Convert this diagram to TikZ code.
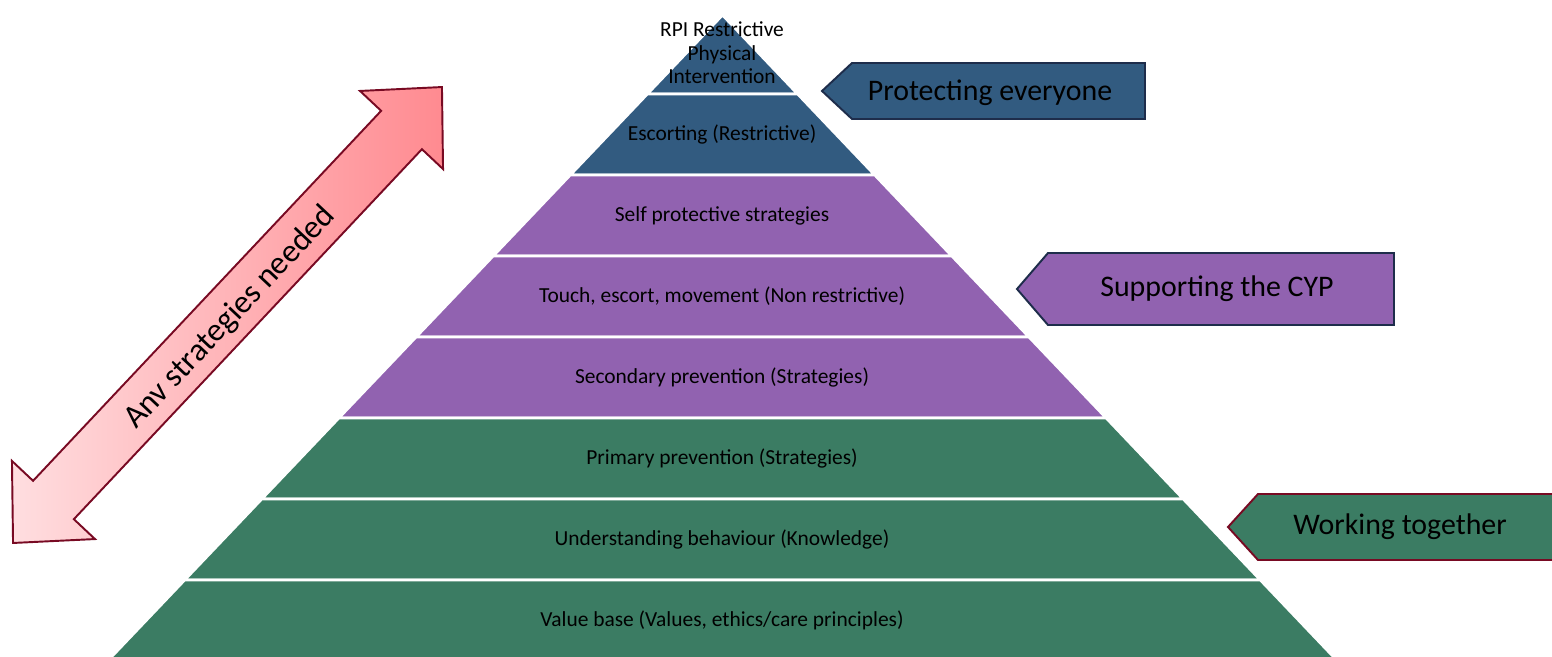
\documentclass[tikz,border=0pt]{standalone}
\usepackage{fontspec}
\setmainfont{Carlito}

\definecolor{topoazul}{RGB}{50,91,128}
\definecolor{meioroxo}{RGB}{145,98,176}
\definecolor{baseverde}{RGB}{59,124,99}
\definecolor{bordaazul}{RGB}{30,45,75}
\definecolor{bordavinho}{RGB}{120,10,35}
\definecolor{setaclara}{RGB}{255,222,224}
\definecolor{setaescura}{RGB}{255,138,144}

\begin{document}
\begin{tikzpicture}[x=0.02cm, y=-0.02cm,
    camada/.style={fill=#1, draw=white, line width=1.6pt},
    rotulo/.style={font=\fontsize{12.2}{13.3}\selectfont, align=center},
    aviso/.style={line width=1.1pt},
    avisotexto/.style={font=\fontsize{17}{20}\selectfont}]
    \useasboundingbox (0,0) rectangle (1552,656);

    % Camadas da piramide
    \path[camada=topoazul] (722.5,15) -- (797.7,94) -- (647.3,94) -- cycle;
    \path[camada=topoazul] (647.3,94) -- (797.7,94) -- (874.8,175) -- (570.2,175) -- cycle;
    \path[camada=meioroxo] (570.2,175) -- (874.8,175) -- (951.9,256) -- (493.1,256) -- cycle;
    \path[camada=meioroxo] (493.1,256) -- (951.9,256) -- (1029.0,337) -- (416.0,337) -- cycle;
    \path[camada=meioroxo] (416.0,337) -- (1029.0,337) -- (1106.2,418) -- (338.8,418) -- cycle;
    \path[camada=baseverde] (338.8,418) -- (1106.2,418) -- (1183.3,499) -- (261.7,499) -- cycle;
    \path[camada=baseverde] (261.7,499) -- (1183.3,499) -- (1260.4,580) -- (184.6,580) -- cycle;
    \path[camada=baseverde] (184.6,580) -- (1260.4,580) -- (1337.5,661) -- (107.5,661) -- cycle;

    % Textos das camadas
    \node[rotulo] (rpi) at (722,53) {RPI Restrictive\\Physical\\Intervention};
    \node[rotulo] (escolta) at (722,134.5) {Escorting (Restrictive)};
    \node[rotulo] (autoprot) at (722,215.5) {Self protective strategies};
    \node[rotulo] (toque) at (722,296.5) {Touch, escort, movement (Non restrictive)};
    \node[rotulo] (secund) at (722,377.5) {Secondary prevention (Strategies)};
    \node[rotulo] (primar) at (722,458.5) {Primary prevention (Strategies)};
    \node[rotulo] (compreen) at (722,539.5) {Understanding behaviour (Knowledge)};
    \node[rotulo] (valores) at (722,620) {Value base (Values, ethics/care principles)};

    % Setas largas da direita
    \draw[aviso, fill=topoazul, draw=bordaazul] (822,91) -- (852,63) -- (1145,63) -- (1145,119) -- (852,119) -- cycle;
    \node[avisotexto] (proteger) at (990,93) {Protecting everyone};
    \draw[aviso, fill=meioroxo, draw=bordaazul] (1017,289) -- (1048,253) -- (1394,253) -- (1394,325) -- (1048,325) -- cycle;
    \node[avisotexto] (apoiar) at (1217,289) {Supporting the CYP};
    \draw[aviso, fill=baseverde, draw=bordavinho] (1228,527) -- (1258,494) -- (1570,494) -- (1570,560) -- (1258,560) -- cycle;
    \node[avisotexto] (juntos) at (1400,527) {Working together};

    % Seta dupla inclinada
    \begin{scope}[shift={(227.5,315)}, rotate=46.75]
        \path[draw=bordavinho, line width=1.1pt, left color=setaclara, right color=setaescura]
            (-313,0) -- (-254,-57) -- (-254,-28) -- (254,-28) -- (254,-57) -- (313,0)
            -- (254,57) -- (254,28) -- (-254,28) -- (-254,57) -- cycle;
        \node[font=\fontsize{18.5}{22}\selectfont, rotate=46.75] (qualquer) at (0,4) {Anv strategies needed};
    \end{scope}
\end{tikzpicture}
\end{document}
